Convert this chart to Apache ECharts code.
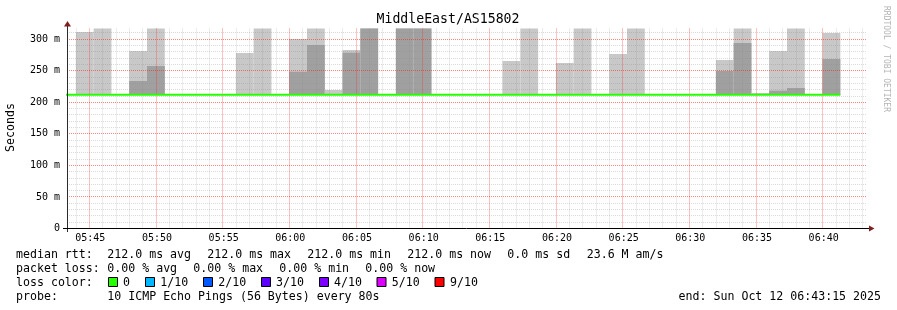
<!DOCTYPE html>
<html><head><meta charset="utf-8">
<script src="https://cdn.jsdelivr.net/npm/echarts@6/dist/echarts.min.js"></script>
<style>html,body{margin:0;padding:0;background:#fff}#c{width:897px;height:310px}</style>
</head><body><div id="c"></div>
<script>
// ---- data ----
const stepTimes = ['05:43:15','05:44:35','05:45:55','05:47:15','05:48:35','05:49:55','05:51:15','05:52:35','05:53:55','05:55:15',
  '05:56:35','05:57:55','05:59:15','06:00:35','06:01:55','06:03:15','06:04:35','06:05:55','06:07:15','06:08:35',
  '06:09:55','06:11:15','06:12:35','06:13:55','06:15:15','06:16:35','06:17:55','06:19:15','06:20:35','06:21:55',
  '06:23:15','06:24:35','06:25:55','06:27:15','06:28:35','06:29:55','06:31:15','06:32:35','06:33:55','06:35:15',
  '06:36:35','06:37:55','06:39:15','06:40:35'];
const medianRtt = [212,212,212,212,212,212,212,212,212,212,212,212,212,212,212,212,212,212,212,212,212,212,
  212,212,212,212,212,212,212,212,212,212,212,212,212,212,212,212,212,212,212,212,212,212];
const smokeLightTop = [null,311.6,317,null,281.4,317,null,null,null,null,278.3,317,null,300.5,317,219.6,283,317,null,317,
  317,null,null,null,null,265.6,317,null,262.4,317,null,276.7,317,null,null,null,null,267.2,317,214.8,
  281.4,317,null,310];
const smokeDarkTop = [null,null,null,null,233.9,257.6,null,null,null,null,null,null,null,248.6,291,null,278.8,317,null,317,
  317,null,null,null,null,null,null,null,null,null,null,null,null,null,null,null,null,249.7,294.1,null,
  218.5,222.8,null,268.7];
const xTickLabels = ['05:45','05:50','05:55','06:00','06:05','06:10','06:15','06:20','06:25','06:30','06:35','06:40'];
const yTickValues = [0,50,100,150,200,250,300];
const startTime = '05:43:15', endTime = '06:43:15';
const stepSeconds = 80;
const yMax = 317.1;
const lossColors = ['#26ff00','#00b8ff','#0059ff','#5e00ff','#7e00ff','#dd00ff','#ff0000'];
const lossLabels = ['0','1/10','2/10','3/10','4/10','5/10','9/10'];
const rttStats = ['212.0 ms avg','212.0 ms max','212.0 ms min','212.0 ms now','0.0 ms sd','23.6 M am/s'];
const lossStats = ['0.00 % avg','0.00 % max','0.00 % min','0.00 % now'];

// ---- helpers ----
function toSec(t){const p=t.split(':').map(Number);return p[0]*3600+p[1]*60+(p[2]||0);}
function fmt(s){const h=Math.floor(s/3600), m=Math.round((s%3600)/60);return String(h).padStart(2,'0')+':'+String(m).padStart(2,'0');}
const xMin = toSec(startTime), xMax = toSec(endTime);
const xs = stepTimes.map(toSec);
const majorX = xTickLabels.map(toSec);

// grid line positions (1 min minor / 5 min major; 10 m minor / 50 m major)
const vMinor = [], vMajor = [], hMinor = [], hMajor = [];
for (let s = Math.ceil(xMin/60)*60; s <= xMax; s += 60) (s % 300 === 0 ? vMajor : vMinor).push([s, 0]);
for (let v = 10; v <= yMax; v += 10) (v % 50 === 0 ? hMajor : hMinor).push([xMin, v]);

const smokeData = [];
smokeLightTop.forEach((v,i)=>{
  if (v == null) return;
  smokeData.push([xs[i], medianRtt[i], smokeDarkTop[i]==null ? medianRtt[i] : smokeDarkTop[i], v]);
});
const medianLine = xs.map((x,i)=>[x-stepSeconds/2, medianRtt[i]]);
medianLine.push([xs[xs.length-1]+stepSeconds/2, medianRtt[medianRtt.length-1]]);

const FONT = '"DejaVu Sans Mono", monospace';
const LFONT = '11.6px ' + FONT;
const gridL = 67, gridR = 30, gridT = 28.5, gridB = 81.5;
const MINOR_C = 'rgba(140,140,140,0.32)';
const MAJOR_C = 'rgba(255,30,30,0.55)';

function renderSmoke(params, api){
  const x = api.value(0), med = api.value(1), dTop = api.value(2), lTop = api.value(3);
  const half = stepSeconds/2;
  const cs = params.coordSys;
  const area = {x:cs.x, y:cs.y, width:cs.width, height:cs.height};
  const children = [];
  function rect(y0, y1, color){
    if (!(y1 > y0)) return;
    const p0 = api.coord([x-half, y1]);
    const p1 = api.coord([x+half, y0]);
    const shape = echarts.graphic.clipRectByRect({x:p0[0], y:p0[1], width:p1[0]-p0[0], height:p1[1]-p0[1]}, area);
    if (shape) children.push({type:'rect', shape:shape, style:{fill:color}});
  }
  rect(med, lTop, '#c8c8c8');
  rect(med, dTop, '#a0a0a0');
  return {type:'group', children:children};
}
function vGridRenderer(color){
  return function(params, api){
    const cs = params.coordSys;
    const x = Math.floor(api.coord([api.value(0), api.value(1)])[0]) - 0.5;
    return {type:'line', shape:{x1:x, y1:cs.y, x2:x, y2:cs.y+cs.height},
      style:{stroke:color, lineWidth:1, lineDash:[1,1]}};
  };
}
function hGridRenderer(color){
  return function(params, api){
    const cs = params.coordSys;
    const y = Math.floor(api.coord([api.value(0), api.value(1)])[1]) + 0.5;
    return {type:'line', shape:{x1:cs.x, y1:y, x2:cs.x+cs.width, y2:y},
      style:{stroke:color, lineWidth:1, lineDash:[1,1]}};
  };
}

const chart = echarts.init(document.getElementById('c'), null, {renderer:'canvas'});
const legendY = [254.5, 268.5, 282.5, 296.5];
function txt(x, y, t, align){
  return {type:'text', x:x, y:y, style:{text:t, font:LFONT, fill:'#000', align:align||'left', verticalAlign:'middle'}};
}
const graphics = [
  {type:'text', x:448, y:19.5, style:{text:'MiddleEast/AS15802', font:'13.2px '+FONT, fill:'#000', align:'center', verticalAlign:'middle'}},
  {type:'text', x:11, y:127.5, rotation:Math.PI/2, style:{text:'Seconds', font:LFONT, fill:'#000', align:'center', verticalAlign:'middle'}},
  {type:'text', x:886.5, y:59, rotation:-Math.PI/2, style:{text:'RRDTOOL / TOBI OETIKER', font:'8px '+FONT, fill:'#b4b4b4', align:'center', verticalAlign:'middle'}},
  {type:'line', shape:{x1:67.5,y1:26,x2:67.5,y2:232}, style:{stroke:'#2c2c2c', lineWidth:1}, z:10},
  {type:'line', shape:{x1:63,y1:228.5,x2:870,y2:228.5}, style:{stroke:'#000', lineWidth:1}, z:10},
  {type:'polygon', shape:{points:[[64,26.5],[71,26.5],[67.5,21]]}, style:{fill:'#7f1f1f'}, z:11},
  {type:'polygon', shape:{points:[[869,225.5],[869,231.5],[874.5,228.5]]}, style:{fill:'#7f1f1f'}, z:11},
  txt(16, legendY[0], 'median rtt:'),
  txt(16, legendY[1], 'packet loss:'),
  txt(16, legendY[2], 'loss color:'),
  txt(16, legendY[3], 'probe:'),
  txt(107.3, legendY[3], '10 ICMP Echo Pings (56 Bytes) every 80s'),
  txt(881, legendY[3], 'end: Sun Oct 12 06:43:15 2025', 'right')
];
const rttX = [107.3, 207.3, 307.3, 407.3, 507.3, 586.7];
rttStats.forEach((t,i)=>graphics.push(txt(rttX[i], legendY[0], t)));
const lossX = [107.3, 193.3, 279.3, 365.3];
lossStats.forEach((t,i)=>graphics.push(txt(lossX[i], legendY[1], t)));
const boxX = [108.5, 145.5, 203.5, 261.5, 319.5, 377, 435];
const labX = [123, 160.3, 218.3, 276, 334, 391.7, 450];
lossColors.forEach((c,i)=>{
  graphics.push({type:'rect', shape:{x:boxX[i], y:277.5, width:9, height:9}, style:{fill:c, stroke:'#000', lineWidth:1}});
  graphics.push(txt(labX[i], legendY[2], lossLabels[i]));
});

chart.setOption({
  animation:false,
  backgroundColor:'#fff',
  grid:{left:gridL, right:gridR, top:gridT, bottom:gridB, containLabel:false},
  xAxis:{
    type:'value', min:xMin, max:xMax,
    axisLine:{show:false},
    axisTick:{show:false, customValues:majorX},
    axisLabel:{customValues:majorX, formatter:v=>fmt(v), fontFamily:FONT, fontSize:10, color:'#000', margin:5},
    splitLine:{show:false}, minorSplitLine:{show:false}
  },
  yAxis:{
    type:'value', min:0, max:yMax, interval:50,
    axisLine:{show:false},
    axisTick:{show:false, customValues:yTickValues},
    axisLabel:{customValues:yTickValues, formatter:v=> v===0?'0':v+' m', fontFamily:FONT, fontSize:10, color:'#000', margin:7},
    splitLine:{show:false}, minorSplitLine:{show:false}
  },
  graphic:graphics,
  series:[
    {type:'custom', renderItem:renderSmoke, data:smokeData, encode:{x:0, y:[1,2,3]}, silent:true, z:1},
    {type:'custom', renderItem:vGridRenderer(MINOR_C), data:vMinor, encode:{x:0, y:1}, silent:true, z:3},
    {type:'custom', renderItem:hGridRenderer(MINOR_C), data:hMinor, encode:{x:0, y:1}, silent:true, z:3},
    {type:'custom', renderItem:vGridRenderer(MAJOR_C), data:vMajor, encode:{x:0, y:1}, silent:true, z:3},
    {type:'custom', renderItem:hGridRenderer(MAJOR_C), data:hMajor, encode:{x:0, y:1}, silent:true, z:3},
    {type:'line', data:medianLine, step:'end', symbol:'none', lineStyle:{color:'#26ff00', width:2}, silent:true, z:4}
  ]
});
</script></body></html>
